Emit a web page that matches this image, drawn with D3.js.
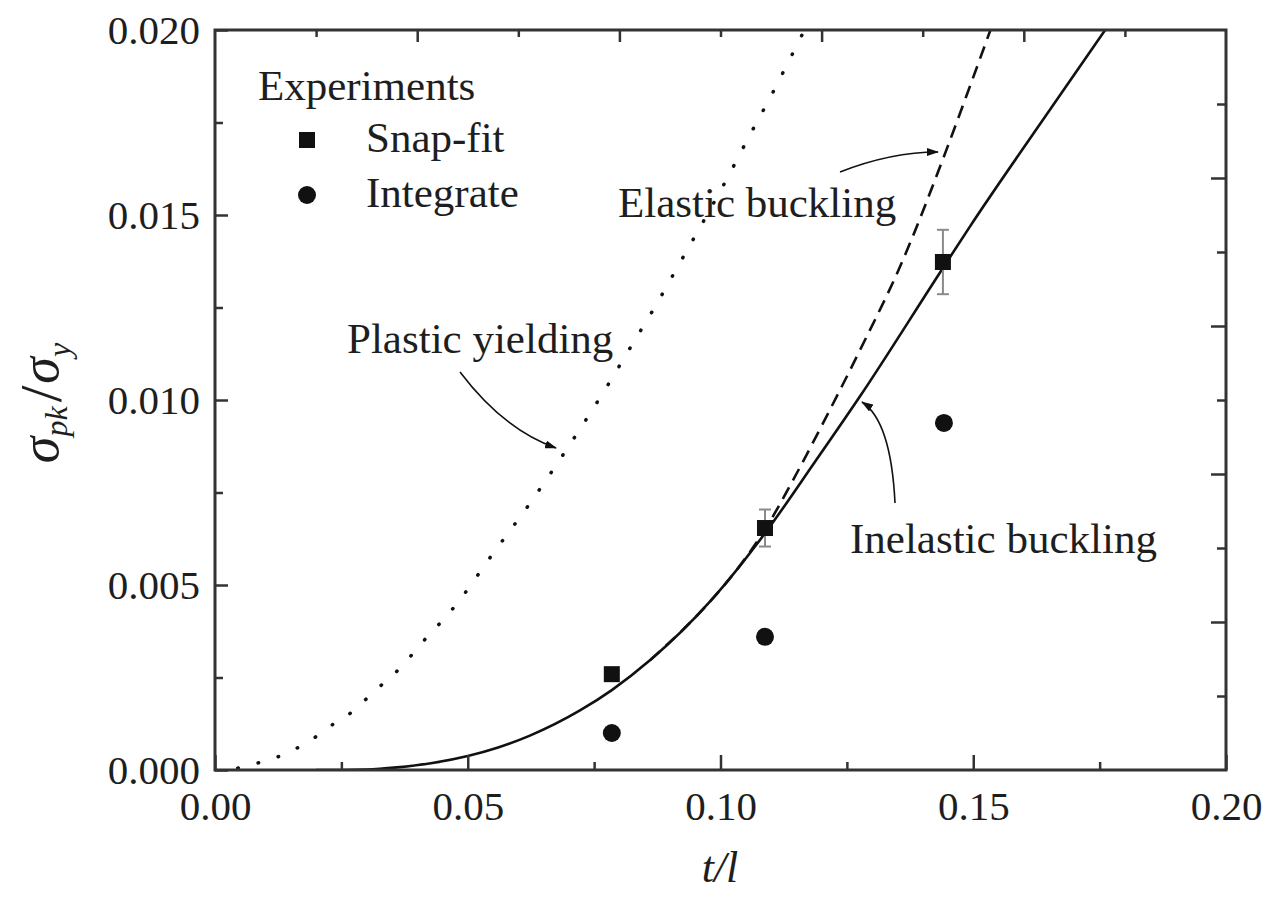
<!DOCTYPE html>
<html>
<head>
<meta charset="utf-8">
<script src="https://cdn.jsdelivr.net/npm/d3@7"></script>
<style>
  body { margin: 0; background: #fff; }
  text { font-family: "Liberation Serif", "Times New Roman", serif; fill: #1e1e1e; }
</style>
</head>
<body>
<script>
// ---------------------------------------- data ----------------------------------------//
var plasticX = [0.0045, 0.0085, 0.0129, 0.0166, 0.0202, 0.0237, 0.0273, 0.0303, 0.0336, 0.0368, 0.0396, 0.0425, 0.0455, 0.0481, 0.0550, 0.0620, 0.0688, 0.0736, 0.0781, 0.0827, 0.0870, 0.0914, 0.1019, 0.1058, 0.1100, 0.1141, 0.1166];
var plasticY = [0.00005, 0.00019, 0.00038, 0.00062, 0.00092, 0.00127, 0.00159, 0.00197, 0.00238, 0.00278, 0.00322, 0.00368, 0.00411, 0.00454, 0.00585, 0.00715, 0.00851, 0.00951, 0.01049, 0.01154, 0.01251, 0.01357, 0.01614, 0.01716, 0.01822, 0.01932, 0.0200];

var elasticX = [0.0861, 0.0979, 0.1040, 0.1088, 0.1150, 0.1200, 0.1276, 0.1355, 0.1448, 0.1494, 0.1534];
var elasticY = [0.00297, 0.00455, 0.00555, 0.0065, 0.0080, 0.0093, 0.01135, 0.0136, 0.0168, 0.0185, 0.0200];

var inelasticX = [0.020, 0.025, 0.030, 0.036, 0.043, 0.050, 0.056, 0.0623, 0.0722, 0.0785, 0.0861, 0.0979, 0.1088, 0.1187, 0.1276, 0.1434, 0.1494, 0.1652, 0.1761];
var inelasticY = [0.0, 0.0, 0.00001, 0.00007, 0.00019, 0.00038, 0.00061, 0.00093, 0.00161, 0.00216, 0.00297, 0.00455, 0.0064, 0.00833, 0.0101, 0.01344, 0.0147, 0.01785, 0.0200];

var snapX = [0.0785, 0.1088, 0.1440];
var snapY = [0.00259, 0.00654, 0.01373];
var snapErr = [0, 0.0005, 0.00087];

var integX = [0.0785, 0.1088, 0.1442];
var integY = [0.0010, 0.0036, 0.00938];

var xMajor = [0, 0.05, 0.1, 0.15, 0.2];
var xMinor = [0.025, 0.075, 0.125, 0.175];
var yMajor = [0, 0.005, 0.01, 0.015, 0.02];
var yMinor = [0.0025, 0.0075, 0.0125, 0.0175];
var topMajor = [0.04, 0.08, 0.12, 0.16];
var topMinor = [0.02, 0.06, 0.10, 0.14, 0.18];
var rightMajor = [0.004, 0.008, 0.012, 0.016];
var rightMinor = [0.002, 0.006, 0.010, 0.014, 0.018];

//-------------------------------------------------- setup --------------------------------------------------//
var width = 1274, height = 902;
var plotLeft = 215, plotRight = 1226, plotTop = 30, plotBottom = 770;

var x = d3.scaleLinear().domain([0, 0.2]).range([plotLeft, plotRight]);
var y = d3.scaleLinear().domain([0, 0.02]).range([plotBottom, plotTop]);

var svg = d3.select("body").append("svg")
  .attr("width", width)
  .attr("height", height);

var defs = svg.append("defs");
defs.append("marker")
  .attr("id", "arrow")
  .attr("viewBox", "0 0 12 8")
  .attr("refX", 11).attr("refY", 4)
  .attr("markerWidth", 12).attr("markerHeight", 8)
  .attr("markerUnits", "userSpaceOnUse")
  .attr("orient", "auto")
  .append("path").attr("d", "M0,0 L12,4 L0,8 Z").attr("fill", "#111");

defs.append("clipPath").attr("id", "clip")
  .append("rect").attr("x", plotLeft).attr("y", plotTop)
  .attr("width", plotRight - plotLeft).attr("height", plotBottom - plotTop);

function zipXY(xs, ys) {
  return xs.map(function (v, i) { return [v, ys[i]]; });
}

var line = d3.line()
  .x(function (d) { return x(d[0]); })
  .y(function (d) { return y(d[1]); })
  .curve(d3.curveMonotoneX);

//-------------------------------------------------- curves --------------------------------------------------//
var curves = svg.append("g").attr("clip-path", "url(#clip)");

curves.append("path")
  .attr("d", line(zipXY(plasticX, plasticY)))
  .attr("fill", "none").attr("stroke", "#111")
  .attr("stroke-width", 3.5)
  .attr("stroke-linecap", "round")
  .attr("stroke-dasharray", "0.5,20.5");

curves.append("path")
  .attr("d", line(zipXY(elasticX, elasticY)))
  .attr("fill", "none").attr("stroke", "#111")
  .attr("stroke-width", 2.6)
  .attr("stroke-dasharray", "13,8");

curves.append("path")
  .attr("d", line(zipXY(inelasticX, inelasticY)))
  .attr("fill", "none").attr("stroke", "#111")
  .attr("stroke-width", 2.6);

//----------------------------------------------- experiments ----------------------------------------------//
var snap = zipXY(snapX, snapY).map(function (d, i) { return { x: d[0], y: d[1], e: snapErr[i] }; });

var err = svg.append("g").attr("stroke", "#8a8a8a").attr("stroke-width", 2);
snap.filter(function (d) { return d.e > 0; }).forEach(function (d) {
  var cx = x(d.x);
  err.append("line").attr("x1", cx).attr("x2", cx).attr("y1", y(d.y - d.e)).attr("y2", y(d.y + d.e));
  err.append("line").attr("x1", cx - 6).attr("x2", cx + 6).attr("y1", y(d.y - d.e)).attr("y2", y(d.y - d.e));
  err.append("line").attr("x1", cx - 6).attr("x2", cx + 6).attr("y1", y(d.y + d.e)).attr("y2", y(d.y + d.e));
});

svg.append("g").selectAll("rect")
  .data(snap).enter().append("rect")
  .attr("x", function (d) { return x(d.x) - 8; })
  .attr("y", function (d) { return y(d.y) - 8; })
  .attr("width", 16).attr("height", 16)
  .attr("fill", "#111");

svg.append("g").selectAll("circle")
  .data(zipXY(integX, integY)).enter().append("circle")
  .attr("cx", function (d) { return x(d[0]); })
  .attr("cy", function (d) { return y(d[1]); })
  .attr("r", 9)
  .attr("fill", "#111");

//-------------------------------------------------- legend --------------------------------------------------//
svg.append("text").attr("x", 258).attr("y", 100).attr("font-size", 43).text("Experiments");
svg.append("rect").attr("x", 299).attr("y", 132).attr("width", 16).attr("height", 16).attr("fill", "#111");
svg.append("text").attr("x", 366).attr("y", 152).attr("font-size", 43).text("Snap-fit");
svg.append("circle").attr("cx", 307).attr("cy", 195).attr("r", 9).attr("fill", "#111");
svg.append("text").attr("x", 366).attr("y", 207).attr("font-size", 43).text("Integrate");

//------------------------------------------------ annotations ------------------------------------------------//
svg.append("text").attr("x", 618).attr("y", 217).attr("font-size", 43).text("Elastic buckling");
svg.append("text").attr("x", 347).attr("y", 353).attr("font-size", 43).text("Plastic yielding");
svg.append("text").attr("x", 850).attr("y", 553).attr("font-size", 43).text("Inelastic buckling");

var arrows = [
  "M460,372 Q504,430 556,448",
  "M840,172 Q891,152 938,152",
  "M895,503 Q891,421 862,402"
];
svg.append("g").selectAll("path")
  .data(arrows).enter().append("path")
  .attr("d", function (d) { return d; })
  .attr("fill", "none").attr("stroke", "#111").attr("stroke-width", 1.6)
  .attr("marker-end", "url(#arrow)");

//--------------------------------------------------- axes ---------------------------------------------------//
function styleAxis(g) {
  g.select(".domain").remove();
  g.selectAll(".tick line").attr("stroke", "#333").attr("stroke-width", 2.5);
  g.selectAll(".tick text").attr("font-size", 41).attr("fill", "#1e1e1e")
    .attr("font-family", "'Liberation Serif', 'Times New Roman', serif");
}

svg.append("g").attr("transform", "translate(0," + plotBottom + ")")
  .call(d3.axisBottom(x).tickValues(xMajor).tickSize(-15).tickPadding(21).tickFormat(d3.format(".2f")))
  .call(styleAxis);
svg.append("g").attr("transform", "translate(0," + plotBottom + ")")
  .call(d3.axisBottom(x).tickValues(xMinor).tickSize(-8).tickFormat(""))
  .call(styleAxis);

svg.append("g").attr("transform", "translate(" + plotLeft + ",0)")
  .call(d3.axisLeft(y).tickValues(yMajor).tickSize(-13).tickPadding(15).tickFormat(d3.format(".3f")))
  .call(styleAxis);
svg.append("g").attr("transform", "translate(" + plotLeft + ",0)")
  .call(d3.axisLeft(y).tickValues(yMinor).tickSize(-8).tickFormat(""))
  .call(styleAxis);

svg.append("g").attr("transform", "translate(0," + plotTop + ")")
  .call(d3.axisTop(x).tickValues(topMajor).tickSize(-12).tickFormat(""))
  .call(styleAxis);
svg.append("g").attr("transform", "translate(0," + plotTop + ")")
  .call(d3.axisTop(x).tickValues(topMinor).tickSize(-7).tickFormat(""))
  .call(styleAxis);

svg.append("g").attr("transform", "translate(" + plotRight + ",0)")
  .call(d3.axisRight(y).tickValues(rightMajor).tickSize(-15).tickFormat(""))
  .call(styleAxis);
svg.append("g").attr("transform", "translate(" + plotRight + ",0)")
  .call(d3.axisRight(y).tickValues(rightMinor).tickSize(-9).tickFormat(""))
  .call(styleAxis);

svg.append("rect")
  .attr("x", plotLeft).attr("y", plotTop)
  .attr("width", plotRight - plotLeft).attr("height", plotBottom - plotTop)
  .attr("fill", "none").attr("stroke", "#333").attr("stroke-width", 3);

//------------------------------------------------ axis titles ------------------------------------------------//
svg.append("text")
  .attr("x", 720).attr("y", 882)
  .attr("text-anchor", "middle")
  .attr("font-size", 44).attr("font-style", "italic")
  .text("t/l");

var yTitle = svg.append("text")
  .attr("transform", "translate(58,403) rotate(-90)")
  .attr("text-anchor", "middle")
  .attr("font-style", "italic");
yTitle.append("tspan").attr("font-size", 54).text("σ");
yTitle.append("tspan").attr("font-size", 32).attr("dy", 9).text("pk");
yTitle.append("tspan").attr("font-size", 60).attr("font-style", "normal").attr("dy", -6).attr("dx", 4).text("/");
yTitle.append("tspan").attr("font-size", 54).attr("dx", 2).attr("dy", -3).text("σ");
yTitle.append("tspan").attr("font-size", 32).attr("dy", 12).text("y");
</script>
</body>
</html>
